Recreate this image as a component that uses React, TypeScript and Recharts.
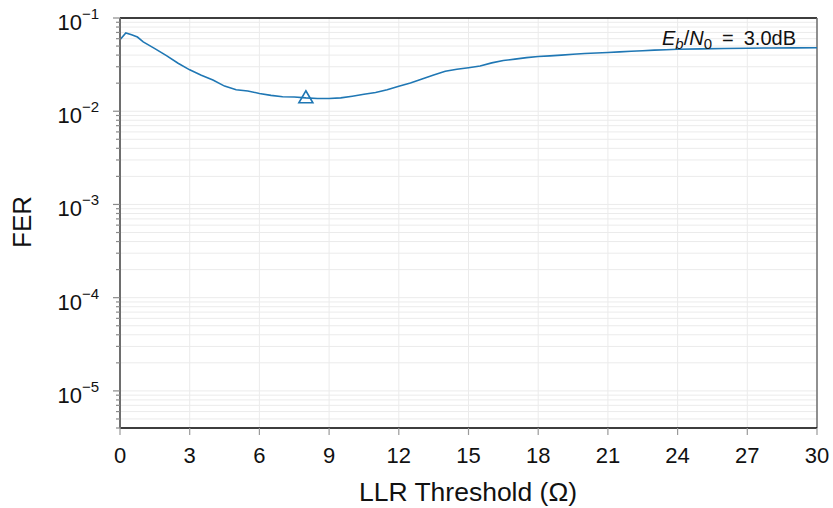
import {
  ComposedChart,
  Line,
  Scatter,
  XAxis,
  YAxis,
  CartesianGrid,
  ReferenceLine,
  Label,
} from "recharts";

// LLR threshold (Ω) and the measured frame error rate at Eb/N0 = 3.0 dB
const llrThreshold = [
  0, 0.25, 0.5, 0.75, 1, 1.5, 2, 2.5, 3, 3.5, 4, 4.5, 5, 5.5, 6, 6.5, 7, 7.5,
  8, 8.5, 9, 9.5, 10, 10.5, 11, 11.5, 12, 12.5, 13, 13.5, 14, 14.5, 15, 15.5,
  16, 16.5, 17, 17.5, 18, 18.5, 19, 19.5, 20, 20.5, 21, 21.5, 22, 22.5, 23,
  23.5, 24, 25, 26, 27, 28, 29, 30,
];
const fer = [
  0.0585, 0.069, 0.066, 0.0625, 0.0555, 0.047, 0.0395, 0.0327, 0.0278,
  0.0243, 0.0216, 0.0186, 0.017, 0.0165, 0.0155, 0.0148, 0.0143, 0.0142,
  0.0139, 0.0137, 0.0137, 0.0139, 0.0145, 0.0152, 0.0159, 0.017, 0.0185,
  0.0201, 0.0222, 0.0245, 0.0268, 0.0282, 0.0293, 0.0305, 0.033, 0.035,
  0.0362, 0.0376, 0.0386, 0.0392, 0.04, 0.0409, 0.0416, 0.0421, 0.0427,
  0.0433, 0.044, 0.0446, 0.0452, 0.0457, 0.0462, 0.0467, 0.0471, 0.0474,
  0.0477, 0.0478, 0.0479,
];
// optimum threshold marker
const optimumX = [8];
const optimumFer = [0.0143];

const xTicks = [0, 3, 6, 9, 12, 15, 18, 21, 24, 27, 30];
const decadeExponents = [-6, -5, -4, -3, -2, -1];
const mantissas = [1, 2, 3, 4, 5, 6, 7, 8, 9];
const yMin = 4e-6;
const yMax = 0.1;

const data = llrThreshold.map((x, i) => ({ x, fer: fer[i] }));
const markerData = optimumX.map((x, i) => ({ x, fer: optimumFer[i] }));

const yTicks: number[] = [];
decadeExponents.forEach((e) =>
  mantissas.forEach((m) => {
    const v = m * Math.pow(10, e);
    if (v >= yMin * 0.999 && v <= yMax * 1.001) yTicks.push(v);
  }),
);

const PLOT_LEFT = 120;
const BLUE = "#1f77b4";
const FONT = "'Liberation Sans', Arial, Helvetica, sans-serif";

// eslint-disable-next-line @typescript-eslint/no-explicit-any
function YTick(props: any) {
  const { y, payload } = props;
  const v = payload.value as number;
  const exp = Math.round(Math.log10(v));
  const major = Math.abs(v - Math.pow(10, exp)) < Math.pow(10, exp) * 1e-6;
  return (
    <g>
      <line
        x1={PLOT_LEFT - (major ? 7 : 4)}
        x2={PLOT_LEFT}
        y1={y}
        y2={y}
        stroke="#8a8a8a"
        strokeWidth={1.2}
      />
      {major && (
        <text
          x={99}
          y={y + 12}
          textAnchor="end"
          fill="#111"
          fontFamily={FONT}
          fontSize={22}
        >
          <tspan>10</tspan>
          <tspan dy={-11} fontSize={15}>
            {`\u2212${Math.abs(exp)}`}
          </tspan>
        </text>
      )}
    </g>
  );
}

// eslint-disable-next-line @typescript-eslint/no-explicit-any
function XTick(props: any) {
  const { x, y, payload } = props;
  return (
    <text
      x={x}
      y={y + 28}
      textAnchor="middle"
      fill="#111"
      fontFamily={FONT}
      fontSize={22}
    >
      {payload.value}
    </text>
  );
}

// eslint-disable-next-line @typescript-eslint/no-explicit-any
function Triangle(props: any) {
  const { cx, cy } = props;
  if (cx == null || cy == null) return null;
  return (
    <path
      d={`M${cx},${cy - 6} L${cx + 7},${cy + 6} L${cx - 7},${cy + 6} Z`}
      fill="none"
      stroke={BLUE}
      strokeWidth={1.6}
    />
  );
}

export default function App() {
  return (
    <div
      style={{
        position: "absolute",
        left: 0,
        top: 0,
        width: 833,
        height: 508,
        background: "#fff",
      }}
    >
      <ComposedChart
        width={833}
        height={508}
        data={data}
        margin={{ top: 18, right: 16, bottom: 0, left: 0 }}
      >
        <CartesianGrid stroke="#ebebeb" strokeWidth={1} />
        <XAxis
          dataKey="x"
          type="number"
          domain={[0, 30]}
          ticks={xTicks}
          interval={0}
          height={80}
          axisLine={{ stroke: "#000", strokeWidth: 1.5 }}
          tickLine={{ stroke: "#9a9a9a", strokeWidth: 1.2 }}
          tickSize={7}
          tickMargin={0}
          tick={<XTick />}
        >
          <Label
            content={() => (
              <text
                x={468}
                y={501}
                textAnchor="middle"
                fill="#111"
                fontFamily={FONT}
                fontSize={26.5}
              >
                LLR Threshold (Ω)
              </text>
            )}
          />
        </XAxis>
        <YAxis
          dataKey="fer"
          type="number"
          scale="log"
          domain={[yMin, yMax]}
          allowDataOverflow
          ticks={yTicks}
          interval={0}
          width={PLOT_LEFT}
          axisLine={{ stroke: "#6e6e6e", strokeWidth: 2 }}
          tickLine={false}
          tick={<YTick />}
        >
          <Label
            content={() => (
              <text
                x={22}
                y={222}
                transform="rotate(-90, 22, 222)"
                textAnchor="middle"
                dominantBaseline="central"
                fill="#111"
                fontFamily={FONT}
                fontSize={26}
              >
                FER
              </text>
            )}
          />
        </YAxis>
        <ReferenceLine y={yMax} stroke="#000" strokeWidth={1.5} />
        <ReferenceLine x={30} stroke="#6e6e6e" strokeWidth={1.5} />
        <Line
          type="linear"
          dataKey="fer"
          stroke={BLUE}
          strokeWidth={1.6}
          dot={false}
          isAnimationActive={false}
        />
        <Scatter
          data={markerData}
          dataKey="fer"
          shape={<Triangle />}
          isAnimationActive={false}
        />
      </ComposedChart>
      <svg
        width={833}
        height={508}
        style={{ position: "absolute", left: 0, top: 0, pointerEvents: "none" }}
      >
        <text
          x={796}
          y={45}
          textAnchor="end"
          fill="#111"
          fontFamily={FONT}
          fontSize={20}
        >
          <tspan fontStyle="italic">E</tspan>
          <tspan fontStyle="italic" fontSize={15} dy={4}>
            b
          </tspan>
          <tspan dy={-4}>/</tspan>
          <tspan fontStyle="italic">N</tspan>
          <tspan fontSize={15} dy={4}>
            0
          </tspan>
          <tspan dy={-4}>{"\u2002=\u20023.0dB"}</tspan>
        </text>
      </svg>
    </div>
  );
}
